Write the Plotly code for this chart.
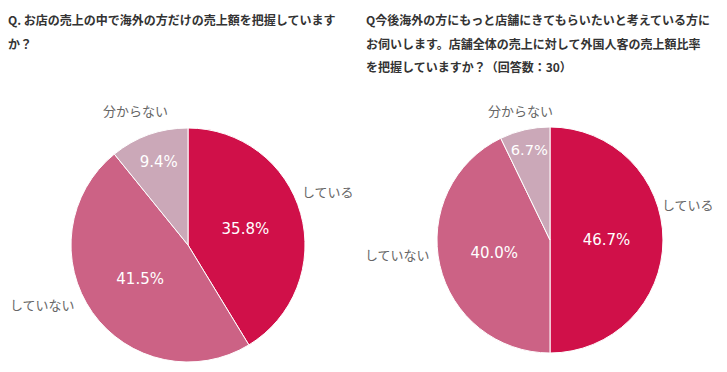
import plotly.graph_objects as go

W, H = 727, 372

categories = ["している", "していない", "分からない"]
left_values = [35.8, 41.5, 9.4]
right_values = [46.7, 40.0, 6.7]
colors = ["#D01049", "#CC6285", "#CBA8B8"]

left_title = ["Q. お店の売上の中で海外の方だけの売上額を把握しています", "か？"]
right_title = ["Q今後海外の方にもっと店舗にきてもらいたいと考えている方に",
               "お伺いします。店舗全体の売上に対して外国人客の売上額比率",
               "を把握していますか？（回答数：30）"]

FONT = "Noto Sans CJK JP"
NUMFONT = "DejaVu Sans"

def pie(values, cx, cy, r):
    return go.Pie(
        labels=categories, values=values, sort=False, direction="clockwise",
        rotation=0,
        marker=dict(colors=colors, line=dict(color="white", width=1)),
        texttemplate="%{value:.1f}%", textposition="inside",
        insidetextorientation="horizontal",
        textfont=dict(family=NUMFONT, size=15, color="white"),
        hoverinfo="label+value",
        domain=dict(x=[(cx - r) / W, (cx + r) / W], y=[(H - cy - r) / H, (H - cy + r) / H]),
        showlegend=False,
    )

fig = go.Figure([pie(left_values, 188, 245, 117), pie(right_values, 550, 240, 113)])

ann = []
def add_text(txt, x, y, size, color, bold=False, xanchor="left"):
    ann.append(dict(text=("<b>%s</b>" % txt) if bold else txt, x=x / W, y=1 - y / H,
                    xref="paper", yref="paper", xanchor=xanchor, yanchor="middle",
                    showarrow=False, font=dict(family=FONT, size=size, color=color)))

for i, line in enumerate(left_title):
    add_text(line, 6, 20 + 23 * i, 12, "#333333", bold=True)
for i, line in enumerate(right_title):
    add_text(line, 364, 20 + 23.3 * i, 12, "#333333", bold=True)

left_label_pos = [(328, 191), (42, 304), (135, 111)]
right_label_pos = [(688, 205), (397, 255), (520, 111)]
for cat, (x, y) in zip(categories, left_label_pos):
    add_text(cat, x, y, 13, "#666666", xanchor="center")
for cat, (x, y) in zip(categories, right_label_pos):
    add_text(cat, x, y, 13, "#666666", xanchor="center")

fig.update_layout(
    width=W, height=H, margin=dict(l=0, r=0, t=0, b=0),
    paper_bgcolor="white", plot_bgcolor="white",
    annotations=ann,
)
fig.write_html("out.html", config={"displayModeBar": False},
               post_script="document.body.style.margin='0px';")
